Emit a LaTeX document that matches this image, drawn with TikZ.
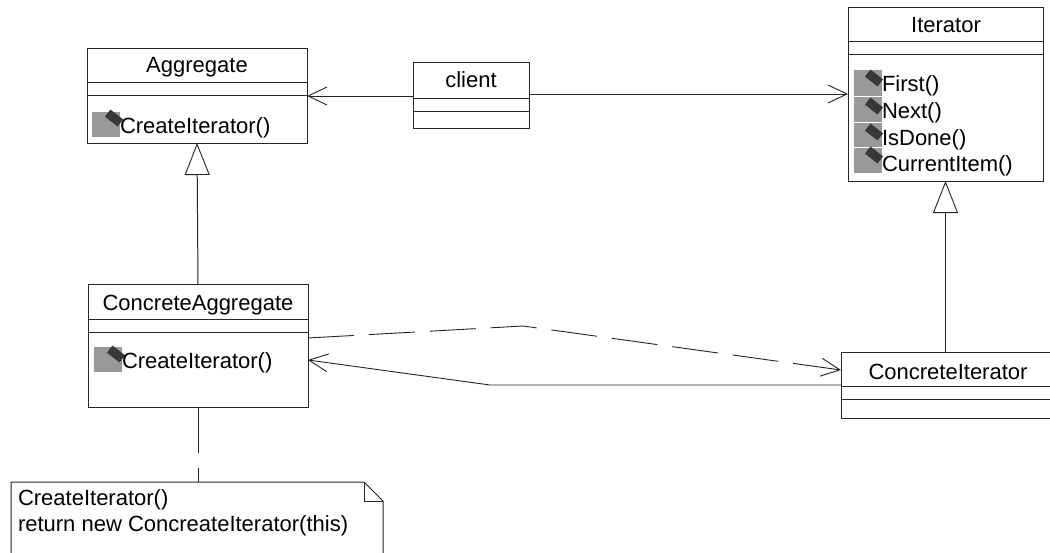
\documentclass[tikz,border=0pt]{standalone}
\usepackage{fontspec}
\setmainfont{Liberation Sans}
\usetikzlibrary{arrows.meta,calc}
\tikzset{
  every node/.style={font=\fontsize{22}{26}\selectfont, inner sep=0pt, outer sep=0pt},
  umlbox/.style={draw=black!85, line width=1pt, rectangle},
  sep/.style={draw=black!85, line width=1pt},
  title/.style={anchor=base},
  member/.style={anchor=base west},
  iconbg/.style={fill=black!40, draw=none, rectangle, minimum width=28pt},
  icongem/.style={fill=black!78, draw=none, rectangle, minimum width=16pt, minimum height=9pt, rotate=-38},
  assoc/.style={draw=black!85, line width=.9pt, -{Straight Barb[length=19pt,width=18pt,line width=.9pt]}},
  inherit/.style={draw=black!85, line width=1pt, -{Triangle[open,fill=white,length=32pt,width=25pt,line width=.9pt]}},
  depend/.style={draw=black!85, line width=.9pt, dash pattern=on 46pt off 15pt},
  assocdash/.style={assoc, dash pattern=on 46pt off 15pt},
}
\newcommand{\classbox}[7]{% name, x1,y1,x2,y2, sep1, sep2
  \node[umlbox, minimum width={#4-#2}, minimum height={#5-#3}] (#1) at ({(#2+#4)/2},{(#3+#5)/2}) {};
  \draw[sep] (#1.west |- 0,#6) -- (#1.east |- 0,#6);
  \draw[sep] (#1.west |- 0,#7) -- (#1.east |- 0,#7);
}
\newcommand{\opicon}[6]{% name, x, y1, y2, gem x, gem y
  \node[iconbg, minimum height={#4-#3}] (#1) at (#2,{(#3+#4)/2}) {};
  \node[icongem] (#1g) at (#5,#6) {};
}
\begin{document}
\begin{tikzpicture}[x=1pt,y=-1pt]
\useasboundingbox (0,0) rectangle (1050,552);
\clip (0,0) rectangle (1050,552);
\fill[white] (0,0) rectangle (1050,552);

% classes
\classbox{aggr}{87}{48}{307}{143}{82}{95}
\classbox{client}{413}{62}{529}{128}{98}{111}
\classbox{iter}{848}{7}{1043}{181}{41}{54}
\classbox{cagg}{88}{284}{308}{407}{319}{332}
\classbox{citer}{841}{352}{1062}{418}{386}{399}

% titles
\node[title] (taggr) at (197,72) {Aggregate};
\node[title] (tclient) at (471,87) {client};
\node[title] (titer) at (946,32) {Iterator};
\node[title] (tcagg) at (198,310) {ConcreteAggregate};
\node[title] (tciter) at (948,379) {ConcreteIterator};

% operations
\opicon{ia}{106}{112}{137}{114}{118}
\node[member] (maggr) at (120,133) {CreateIterator()};
\opicon{ic}{108}{347}{372}{116}{354}
\node[member] (mcagg) at (122,368) {CreateIterator()};

\opicon{i1}{867.5}{70}{95.5}{874}{78}
\opicon{i2}{867.5}{96.5}{121.5}{874}{106}
\opicon{i3}{867.5}{122.5}{147}{874}{132}
\opicon{i4}{867.5}{148}{173}{874}{155}
\node[member] (m1) at (882,91) {First()};
\node[member] (m2) at (882,118) {Next()};
\node[member] (m3) at (882,145) {IsDone()};
\node[member] (m4) at (882,171) {CurrentItem()};

% note
\node[rectangle, draw=none, minimum width=372pt, minimum height=90pt, anchor=north west] (note) at (11,482) {};
\draw[umlbox] (note.south west) -- (note.north west) -- ($(note.north east)+(-19,0)$) -- ($(note.north east)+(0,19)$) -- (note.south east);
\draw[umlbox] ($(note.north east)+(-19,0)$) -- ($(note.north east)+(-19,19)$) -- ($(note.north east)+(0,19)$);
\node[anchor=base west] (n1) at (18,505) {CreateIterator()};
\node[anchor=base west] (n2) at (18,531) {return new ConcreateIterator(this)};

% connectors
\draw[assoc] (client.west |- 0,96) -- (aggr.east |- 0,96);
\draw[assoc] (client.east |- 0,94) -- (iter.west |- 0,94);
\draw[inherit] (cagg.north) -- (aggr.south);
\draw[inherit] (iter.south |- citer.north) -- (iter.south);
\coordinate (bendup) at (523,326);
\coordinate (benddown) at (490,385);
\draw[assocdash] (cagg.east |- 0,338) -- (bendup) -- (citer.west |- 0,370);
\draw[assoc] (citer.west |- 0,385) -- (benddown) -- (cagg.east |- 0,360);
\draw[depend] (cagg.south) -- (cagg.south |- note.north);
\end{tikzpicture}
\end{document}
